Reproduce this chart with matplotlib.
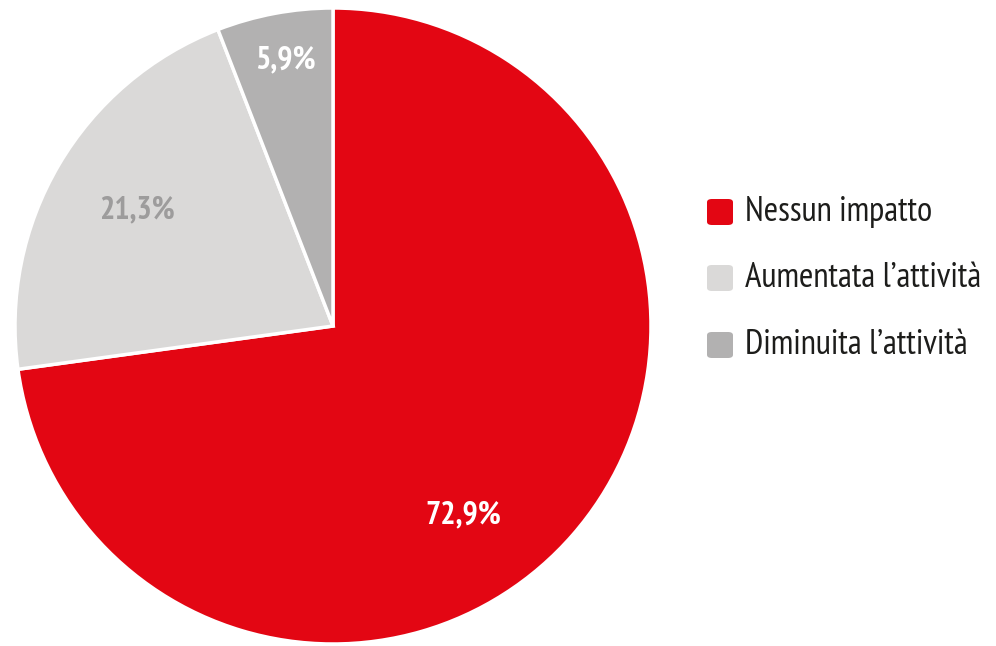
import matplotlib
matplotlib.use("Agg")
import matplotlib.pyplot as plt
from matplotlib.patches import FancyBboxPatch

categories = ["Nessun impatto", "Aumentata l\u2019attivit\u00e0", "Diminuita l\u2019attivit\u00e0"]
shares = [72.9, 21.3, 5.9]
colors = ["#E30613", "#DAD9D8", "#B2B1B1"]
label_colors = ["white", "#9D9C9C", "white"]
# label anchor points, in pie radius units
label_pos = [(0.409, -0.596), (-0.616, 0.362), (-0.148, 0.836)]

family = ["PT Sans Narrow", "Fira Sans Condensed", "DejaVu Sans"]

fig = plt.figure(figsize=(9.96, 6.46), dpi=100)
ax = fig.add_axes([15 / 996, 2 / 646, 636 / 996, 636 / 646])
ax.pie(shares, colors=colors, startangle=90, counterclock=False, radius=1,
       wedgeprops=dict(edgecolor="white", linewidth=2.5))
ax.set_xlim(-1, 1)
ax.set_ylim(-1, 1)
ax.set_aspect("equal")
ax.axis("off")

for val, (x, y), c in zip(shares, label_pos, label_colors):
    ax.text(x, y, f"{val:.1f}%".replace(".", ","), ha="center", va="center",
            fontsize=23, fontweight="bold", color=c, family=family)

# legend drawn by hand: rounded swatches plus labels
row_y = [212, 278, 345]
for name, col, py in zip(categories, colors, row_y):
    fy = 1 - py / 646
    box = FancyBboxPatch((707 / 996, fy - 13 / 646), 26 / 996, 26 / 646,
                         boxstyle="round,pad=0,rounding_size=0.005",
                         transform=fig.transFigure, facecolor=col, edgecolor="none")
    fig.patches.append(box)
    fig.text(745 / 996, fy, name, ha="left", va="center", fontsize=25,
             color="#1D1D1B", family=family)

fig.savefig("out.png", dpi=100)
